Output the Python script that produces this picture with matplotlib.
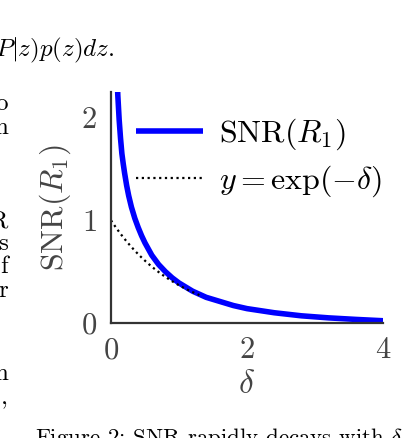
import numpy as np
import matplotlib
matplotlib.use("Agg")
import matplotlib.pyplot as plt

plt.rcParams['font.family'] = 'serif'
plt.rcParams['font.serif'] = ['cmr10']
plt.rcParams['mathtext.fontset'] = 'cm'
plt.rcParams['axes.formatter.use_mathtext'] = True

# SNR(R_1)
delta = [0.08, 0.09, 0.10, 0.12, 0.14, 0.16, 0.18, 0.20, 0.23, 0.26, 0.30, 0.35,
         0.40, 0.45, 0.50, 0.60, 0.70, 0.80, 0.90, 1.00, 1.10, 1.20, 1.40, 1.60,
         1.80, 2.00, 2.20, 2.40, 2.80, 3.20, 3.60, 4.00]
snr = [2.60, 2.40, 2.22, 1.98, 1.80, 1.65, 1.55, 1.46, 1.34, 1.24, 1.13, 1.02,
       0.93, 0.85, 0.78, 0.66, 0.57, 0.50, 0.44, 0.39, 0.35, 0.31, 0.25, 0.21,
       0.17, 0.14, 0.12, 0.10, 0.07, 0.05, 0.035, 0.022]

# reference curve y = exp(-delta)
ref_delta = np.linspace(0, 1.3, 60)
ref_y = np.exp(-ref_delta)

xticks = [0, 2, 4]
yticks = [0, 1, 2]

W, H = 416, 438
fig = plt.figure(figsize=(W / 100, H / 100), dpi=100)


def fx(px):
    return px / W


def fy(py):
    return 1 - py / H


ax = fig.add_axes([fx(111), fy(323), fx(383) - fx(111), fy(92) - fy(323)])
ax.plot(delta, snr, color='#0000ff', lw=4.0, label=r'$\mathrm{SNR}(R_1)$', solid_capstyle='butt')
ax.plot(ref_delta, ref_y, color='black', lw=1.6, ls=(0, (1, 1.6)), label=r'$y = \exp(-\delta)$')

ax.set_xlim(0, 4)
ax.set_ylim(0, 2.25)
ax.set_xticks(xticks)
ax.set_yticks(yticks)
ax.tick_params(length=0, labelsize=22, colors='#444444', pad=10)
for side in ['top', 'right']:
    ax.spines[side].set_visible(False)
for side in ['left', 'bottom']:
    ax.spines[side].set_color('#333333')
    ax.spines[side].set_linewidth(1.6)

ax.set_xlabel(r'$\delta$', fontsize=24, color='#444444', labelpad=4)
ax.set_ylabel(r'$\mathrm{SNR}(R_1)$', fontsize=23, color='#444444', labelpad=6)

leg = fig.legend(loc='upper left', bbox_to_anchor=(fx(136), fy(117)), frameon=False,
                 fontsize=23, handlelength=2.1, handletextpad=0.5, labelspacing=0.35,
                 borderpad=0, borderaxespad=0)

# surrounding page text
fig.text(fx(-5), fy(56), r'$P|z)p(z)dz.$', fontsize=18, ha='left', va='baseline')
left_bits = [('o', 110), ('n', 134), ('R', 227), ('s', 250), ('f', 273), ('r', 297), ('n', 380), (',', 404)]
for s, yb in left_bits:
    fig.text(fx(8), fy(yb), s, fontsize=18, ha='right', va='baseline')
fig.text(fx(35), fy(444), r'Figure 2: SNR rapidly decays with $\delta$', fontsize=16.5, ha='left', va='baseline')

fig.savefig('out.png', dpi=100)
